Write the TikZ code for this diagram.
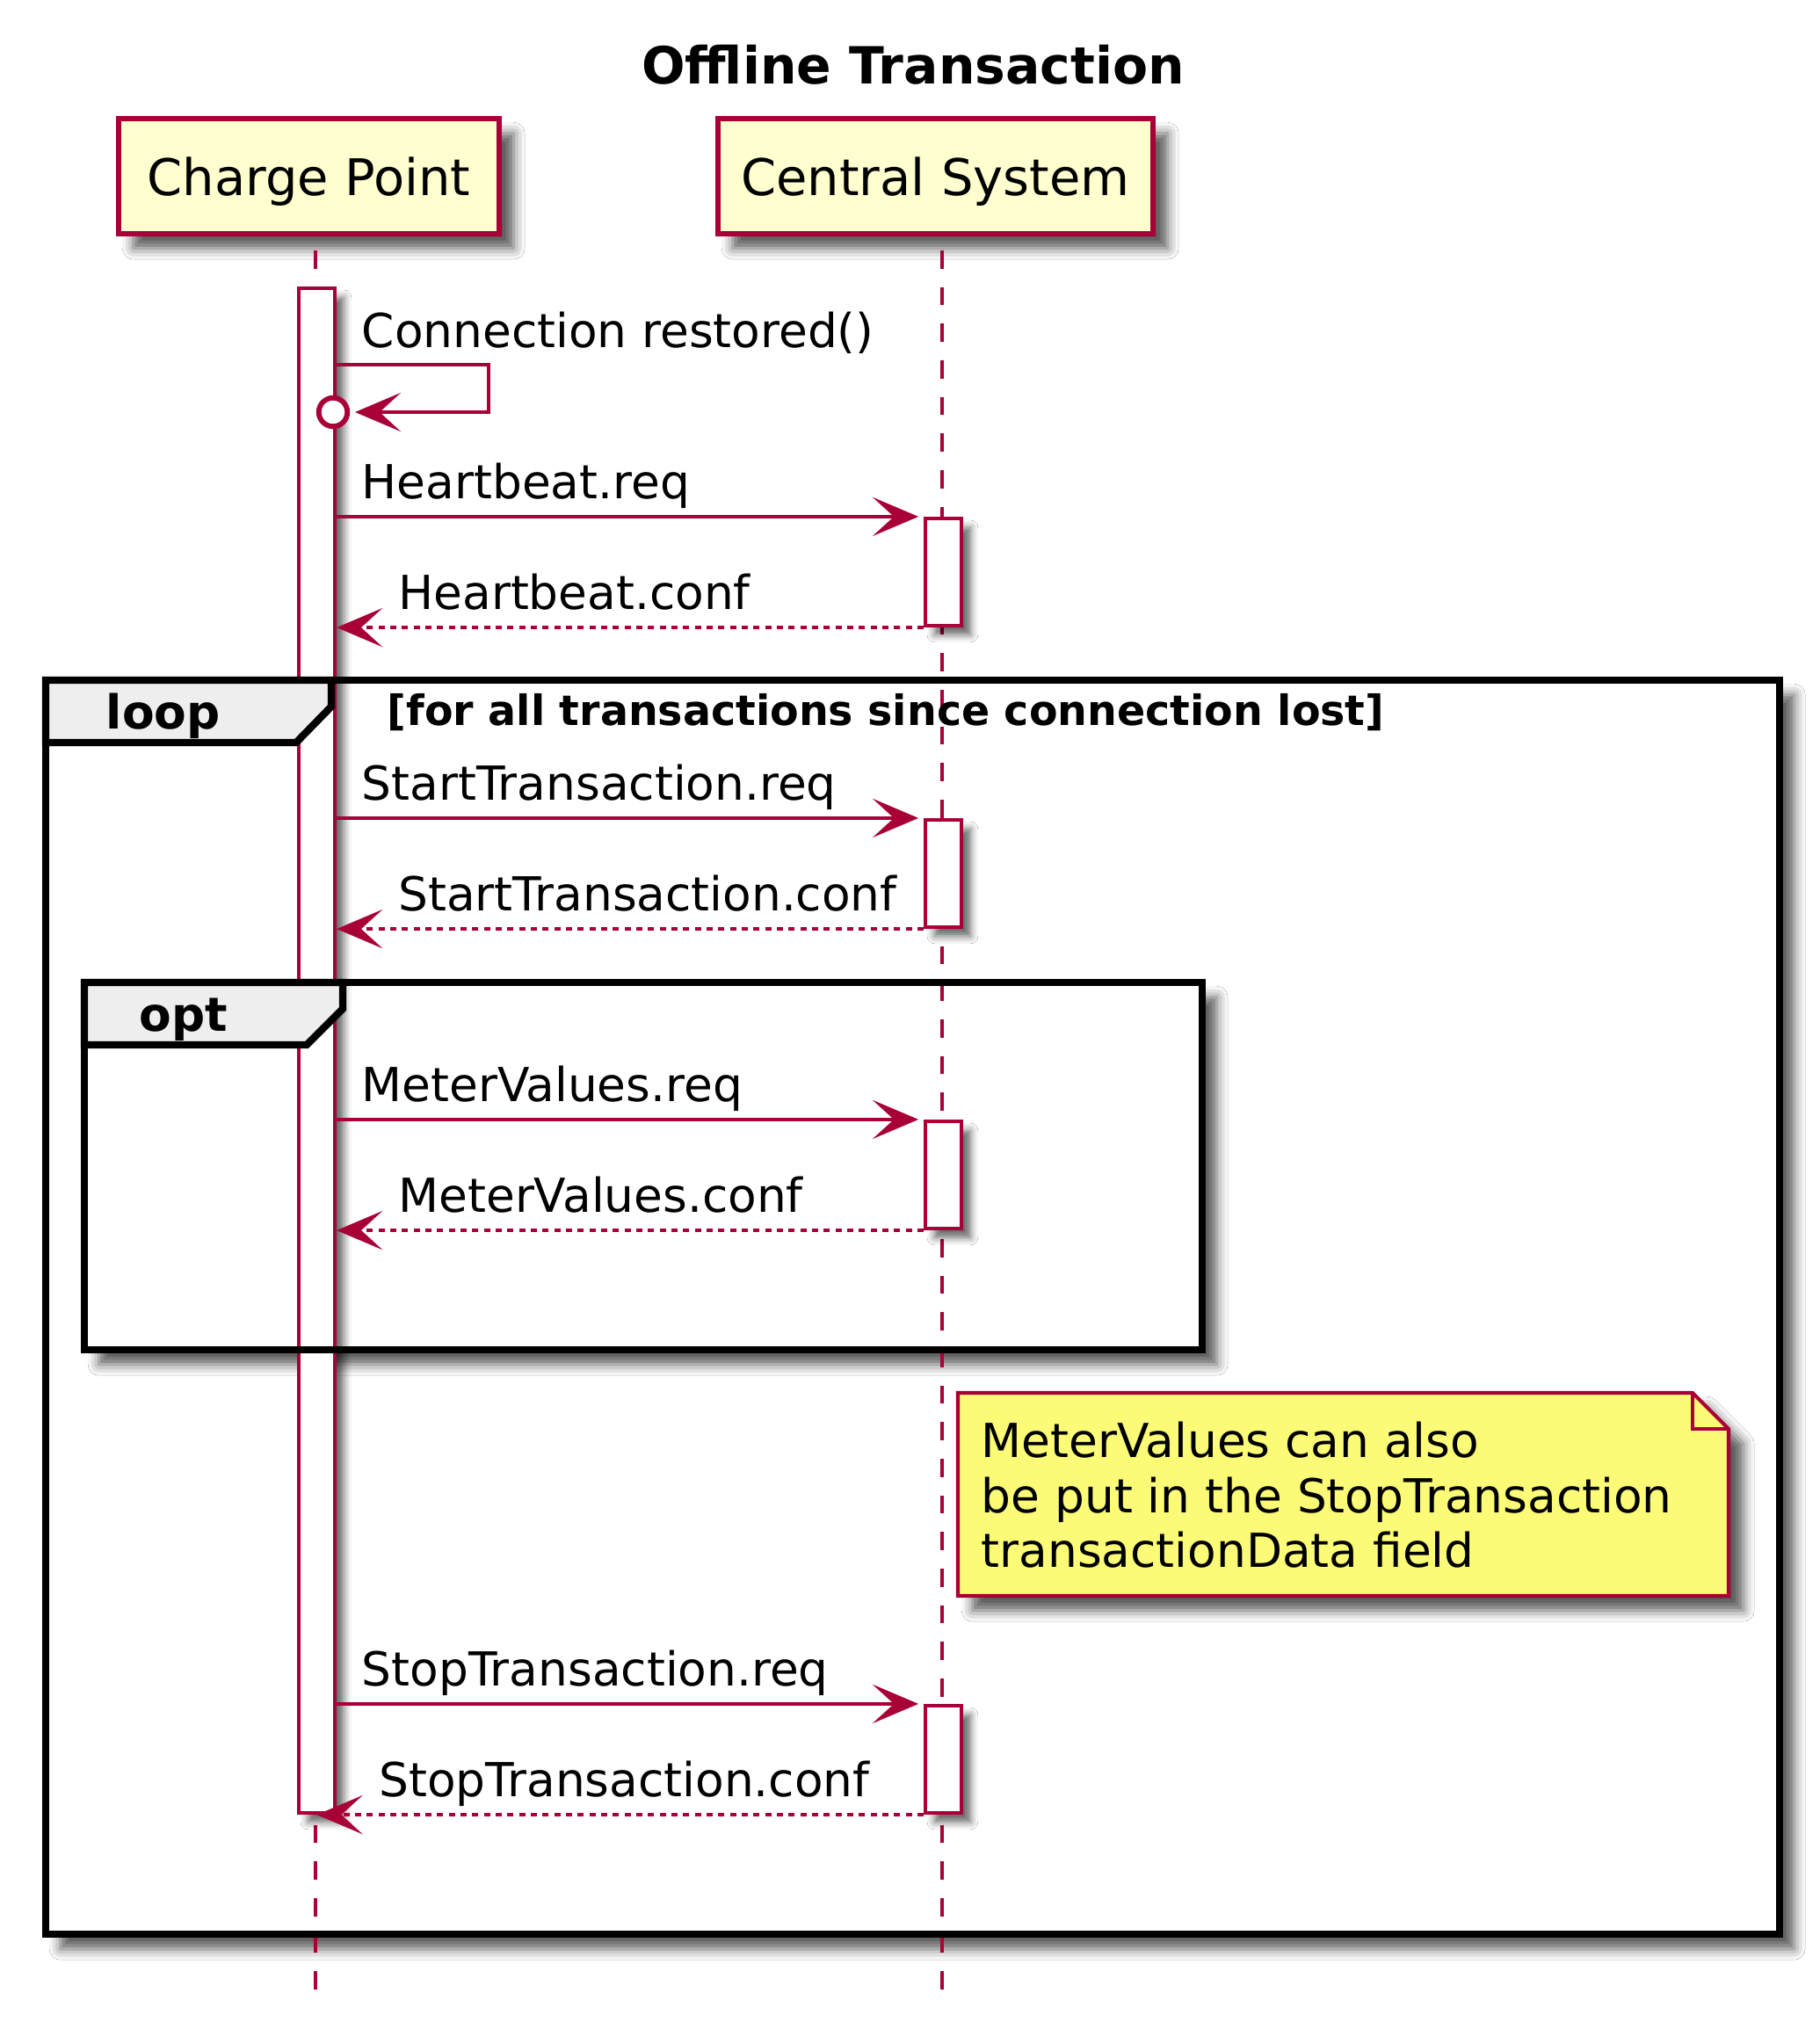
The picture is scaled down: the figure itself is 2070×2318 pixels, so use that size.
\documentclass[tikz,border=0pt]{standalone}
\usepackage{fontspec}
\setmainfont{DejaVu Sans}
\usepackage{tikz}
\usetikzlibrary{arrows.meta,shadows.blur}
\definecolor{sqred}{HTML}{A80036}
\definecolor{sqyellow}{HTML}{FEFECE}
\definecolor{sqnotey}{HTML}{FBFB77}
\definecolor{sqgrey}{HTML}{EEEEEE}
\tikzset{
  sqshadow/.style={blur shadow={shadow xshift=4pt, shadow yshift=-4pt, shadow blur radius=3pt, shadow opacity=65}},
  sqpart/.style={draw=sqred, line width=1.5pt, fill=sqyellow, text depth=0pt, inner sep=0pt, minimum height=31.4pt, font=\fontsize{13.8}{16}\selectfont, sqshadow},
  sqlife/.style={draw=sqred, line width=1pt, dash pattern=on 5pt off 5pt},
  sqbar/.style={draw=sqred, line width=1pt, fill=white, inner sep=0pt, minimum width=9.84pt, blur shadow={shadow xshift=2.5pt, shadow yshift=-2.5pt, shadow blur radius=2pt, shadow opacity=60}},
  sqmsg/.style={draw=sqred, line width=1pt, -{Stealth[length=12.5pt, width=10.6pt, inset=5.8pt]}, shorten >=1.4pt},
  sqret/.style={sqmsg, dash pattern=on 1.7pt off 1.5pt, shorten >=0pt},
  sqlbl/.style={inner sep=0pt, anchor=base west, font=\fontsize{12.8}{15}\selectfont},
  sqcirc/.style={draw=sqred, line width=1.4pt, fill=white, circle, inner sep=0pt, minimum size=7.8pt},
  sqframe/.style={draw=black, line width=2pt},
  sqtab/.style={draw=black, line width=2pt, fill=sqgrey, line join=miter},
  sqgroup/.style={inner sep=0pt, anchor=base west, font=\bfseries\fontsize{12.8}{15}\selectfont},
  sqguard/.style={inner sep=0pt, anchor=base west, font=\bfseries\fontsize{11.4}{14}\selectfont},
  sqnote/.style={draw=sqred, line width=1pt, fill=sqnotey, line join=miter, sqshadow}
}
\begin{document}
\begin{tikzpicture}[x=0.24pt, y=-0.24pt]
  \fill[white] (0,0) rectangle (2070,2318);
  \useasboundingbox (0,0) rectangle (2070,2318);
  \node[anchor=base, font=\bfseries\fontsize{14}{17}\selectfont] (title) at (1039,96) {Offline Transaction};

  \fill[white, sqshadow] (52,774) rectangle (2025,2201);
  \fill[white, sqshadow] (96,1118) rectangle (1368,1536);

  \node[sqpart, minimum width=103.9pt] (cp) at (351.5,200.5) {Charge Point};
  \node[sqpart, minimum width=118.8pt] (cs) at (1064.5,200.5) {Central System};
  \coordinate (cptop) at (359,285);
  \coordinate (cpbot) at (359,2264);
  \coordinate (cstop) at (1072,285);
  \coordinate (csbot) at (1072,2264);
  \draw[sqlife] (cptop) -- (cpbot);
  \draw[sqlife] (cstop) -- (csbot);

  \node[sqbar, minimum height=416.4pt] (cpbar) at (360.5,1195.5) {};
  \node[sqbar, minimum height=29.28pt] (hbbar) at (1073.5,651) {};
  \node[sqbar, minimum height=29.28pt] (stbar) at (1073.5,994) {};
  \node[sqbar, minimum height=29.28pt] (mvbar) at (1073.5,1337) {};
  \node[sqbar, minimum height=29.28pt] (spbar) at (1073.5,2002) {};

  \draw[sqframe] (52,774) rectangle (2025,2201);
  \draw[sqtab] (52,774) -- (377,774) -- (377,804) -- (337,845) -- (52,845) -- cycle;
  \node[sqgroup] (looplbl) at (120,829) {loop};
  \node[sqguard] (loopguard) at (440,826) {[for all transactions since connection lost]};
  \draw[sqframe] (96,1118) rectangle (1368,1536);
  \draw[sqtab] (96,1118) -- (390,1118) -- (390,1148) -- (349,1189) -- (96,1189) -- cycle;
  \node[sqgroup] (optlbl) at (158,1173) {opt};

  \node[sqcirc] (selfcirc) at (379,469) {};
  \draw[sqmsg] (cpbar.east |- 0,415) -- (556,415) -- (556,469) -- (selfcirc.east);
  \node[sqlbl] (selflbl) at (411,396) {Connection restored()};

  \draw[sqmsg] (cpbar.east |- hbbar.north) -- (hbbar.north west) node[sqlbl, at start, xshift=6.4pt, yshift=4.9pt] (hbreq) {Heartbeat.req};
  \draw[sqret] (hbbar.south west) -- (cpbar.east |- hbbar.south) node[sqlbl, at end, xshift=16.4pt, yshift=4.9pt] (hbconf) {Heartbeat.conf};
  \draw[sqmsg] (cpbar.east |- stbar.north) -- (stbar.north west) node[sqlbl, at start, xshift=6.4pt, yshift=4.9pt] (streq) {StartTransaction.req};
  \draw[sqret] (stbar.south west) -- (cpbar.east |- stbar.south) node[sqlbl, at end, xshift=16.4pt, yshift=4.9pt] (stconf) {StartTransaction.conf};
  \draw[sqmsg] (cpbar.east |- mvbar.north) -- (mvbar.north west) node[sqlbl, at start, xshift=6.4pt, yshift=4.9pt] (mvreq) {MeterValues.req};
  \draw[sqret] (mvbar.south west) -- (cpbar.east |- mvbar.south) node[sqlbl, at end, xshift=16.4pt, yshift=4.9pt] (mvconf) {MeterValues.conf};
  \draw[sqmsg] (cpbar.east |- spbar.north) -- (spbar.north west) node[sqlbl, at start, xshift=6.4pt, yshift=4.9pt] (spreq) {StopTransaction.req};
  \draw[sqret] (spbar.south west) -- (cpbar.center |- spbar.south) node[sqlbl, at end, xshift=16.5pt, yshift=4.9pt] (spconf) {StopTransaction.conf};

  \draw[sqnote] (1090,1585) -- (1926,1585) -- (1967,1626) -- (1967,1816) -- (1090,1816) -- cycle;
  \draw[draw=sqred, line width=1pt] (1926,1585) |- (1967,1626);
  \node[inner sep=0pt, anchor=north west, align=left, font=\fontsize{12.8}{15}\selectfont] (notetxt) at (1116,1617.5) {MeterValues can also\\be put in the StopTransaction\\transactionData field};
\end{tikzpicture}
\end{document}
